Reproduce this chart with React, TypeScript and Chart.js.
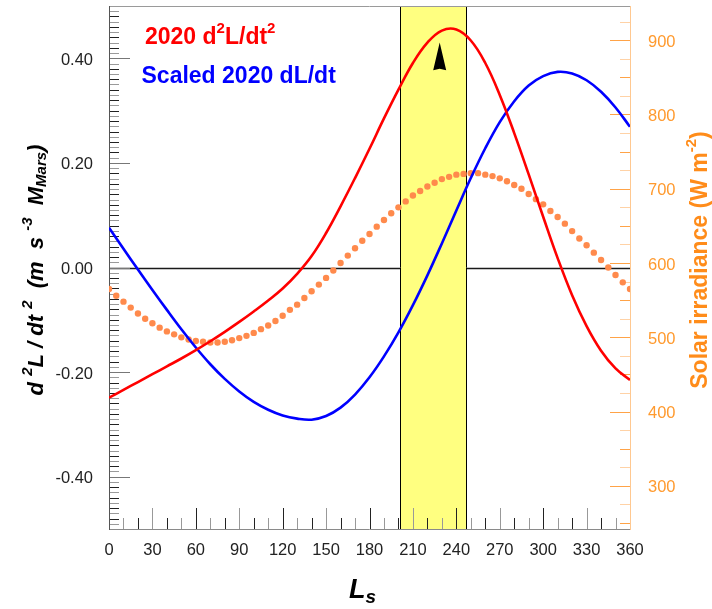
import React, { useEffect, useRef } from 'react';
import { Chart, registerables } from 'chart.js';

Chart.register(...registerables);

// ---------- data ----------
const lsGrid = [0, 10, 20, 30, 40, 50, 60, 70, 80, 90, 100, 110, 120, 130, 140, 150, 160, 170, 180,
  190, 200, 210, 220, 230, 240, 250, 260, 270, 280, 290, 300, 310, 320, 330, 340, 350, 360];

const d2LDt2_2020 = [-0.249, -0.234, -0.219, -0.204, -0.189, -0.174, -0.158, -0.141, -0.123, -0.104,
  -0.084, -0.063, -0.040, -0.012, 0.022, 0.066, 0.117, 0.171, 0.227, 0.285, 0.340, 0.391, 0.430,
  0.453, 0.455, 0.434, 0.391, 0.330, 0.257, 0.178, 0.097, 0.018, -0.053, -0.112, -0.159, -0.193, -0.215];

const scaledDLDt_2020 = [0.076, 0.036, -0.004, -0.043, -0.081, -0.118, -0.153, -0.185, -0.213, -0.237,
  -0.257, -0.272, -0.283, -0.289, -0.291, -0.284, -0.268, -0.243, -0.210, -0.170, -0.124, -0.072,
  -0.015, 0.046, 0.109, 0.171, 0.228, 0.278, 0.318, 0.348, 0.366, 0.374, 0.371, 0.358, 0.336, 0.306, 0.269];

const irradianceLs = [0, 5, 10, 15, 20, 25, 30, 35, 40, 45, 50, 55, 60, 65, 70, 75, 80, 85, 90, 95, 100,
  105, 110, 115, 120, 125, 130, 135, 140, 145, 150, 155, 160, 165, 170, 175, 180, 185, 190, 195, 200,
  205, 210, 215, 220, 225, 230, 235, 240, 245, 250, 255, 260, 265, 270, 275, 280, 285, 290, 295, 300,
  305, 310, 315, 320, 325, 330, 335, 340, 345, 350, 355, 360];

const solarIrradiance = [565, 556, 548, 540, 532, 525, 519, 513, 508, 504, 500, 497, 495, 494, 493, 493,
  494, 496, 499, 502, 506, 511, 516, 522, 529, 537, 544, 553, 562, 571, 580, 590, 600, 610, 620, 630,
  639, 649, 658, 667, 675, 683, 691, 697, 703, 708, 713, 716, 719, 720, 721, 721, 719, 717, 714, 710,
  705, 700, 693, 686, 679, 670, 662, 653, 643, 633, 624, 614, 604, 594, 584, 574, 565];

const lsTickLabels = [0, 30, 60, 90, 120, 150, 180, 210, 240, 270, 300, 330, 360];
const leftTickLabels = [-0.4, -0.2, 0, 0.2, 0.4];
const rightTickLabels = [300, 400, 500, 600, 700, 800, 900];

const lsRange = [0, 360];
const leftRange = [-0.5, 0.5];
const rightRange = [242, 946];

const lsMinorStep = 10;
const leftMinorStep = 0.01;
const rightMinorStep = 25;

const dustSeasonLs = [201, 247];
const arrowLs = [228.5];
const arrowTipBase = [0.43, 0.377];

// ---------- styles ----------
const SANS = '"Liberation Sans", Arial, Helvetica, sans-serif';
const ORANGE_TEXT = '#ff8c1a';
const ORANGE_TICK = '#ffa347';
const DOT = '#ff8a4c';

function hasFont(name: string): boolean {
  const c = document.createElement('canvas').getContext('2d');
  if (!c) return false;
  const s = 'mmmmmmmmmmlli0123456789WQ';
  for (const base of ['monospace', 'serif']) {
    c.font = `72px ${base}`;
    const a = c.measureText(s).width;
    c.font = `72px "${name}", ${base}`;
    const b = c.measureText(s).width;
    if (a !== b) return true;
  }
  return false;
}

type Run = { t: string; font: string; dy?: number };

function drawRuns(ctx: CanvasRenderingContext2D, runs: Run[], x: number, y: number, align: 'left' | 'center') {
  const widths = runs.map((r) => {
    ctx.font = r.font;
    return ctx.measureText(r.t).width;
  });
  const total = widths.reduce((a, b) => a + b, 0);
  let cx = align === 'center' ? x - total / 2 : x;
  ctx.textBaseline = 'alphabetic';
  ctx.textAlign = 'left';
  runs.forEach((r, i) => {
    ctx.font = r.font;
    ctx.fillText(r.t, cx, y + (r.dy || 0));
    cx += widths[i];
  });
}

const decor = {
  id: 'decor',
  beforeDatasetsDraw(chart: any) {
    const { ctx, chartArea: a, scales } = chart;
    const xs = scales.x, ys = scales.y, y2 = scales.y2;
    ctx.save();
    const hline = (x1: number, x2: number, y: number) => {
      ctx.beginPath(); ctx.moveTo(x1, y); ctx.lineTo(x2, y); ctx.stroke();
    };
    const vline = (x: number, y1: number, y2v: number) => {
      ctx.beginPath(); ctx.moveTo(x, y1); ctx.lineTo(x, y2v); ctx.stroke();
    };

    // zero line
    const y0 = Math.round(ys.getPixelForValue(0)) + 0.5;
    ctx.strokeStyle = '#1a1a1a';
    ctx.lineWidth = 1.6;
    hline(a.left, a.right, y0);

    // dust season band
    const bx1 = Math.round(xs.getPixelForValue(dustSeasonLs[0])) + 0.5;
    const bx2 = Math.round(xs.getPixelForValue(dustSeasonLs[1])) + 0.5;
    ctx.fillStyle = '#ffff80';
    ctx.fillRect(bx1, a.top, bx2 - bx1, a.bottom - a.top);
    ctx.strokeStyle = '#000';
    ctx.lineWidth = 1;
    vline(bx1, a.top, a.bottom);
    vline(bx2, a.top, a.bottom);

    // left axis ticks
    ctx.lineWidth = 1;
    const nL = Math.round((leftRange[1] - leftRange[0]) / leftMinorStep);
    for (let k = 1; k < nL; k++) {
      const v = leftRange[0] + k * leftMinorStep;
      const major = leftTickLabels.some((t) => Math.abs(t - v) < 1e-6);
      const py = Math.round(ys.getPixelForValue(v)) + 0.5;
      ctx.strokeStyle = major ? '#777' : k % 2 === 0 ? '#222' : '#9a9a9a';
      hline(a.left, a.left + (major ? 21 : 10), py);
    }
    // bottom axis ticks
    for (let v = lsRange[0] + lsMinorStep; v < lsRange[1]; v += lsMinorStep) {
      const major = lsTickLabels.includes(v);
      const px = Math.round(xs.getPixelForValue(v)) + 0.5;
      ctx.strokeStyle = (v / lsMinorStep) % 2 === 0 ? '#222' : '#999';
      vline(px, a.bottom, a.bottom - (major ? 21 : 11));
    }
    // right axis ticks
    for (let v = Math.ceil(rightRange[0] / rightMinorStep) * rightMinorStep; v < rightRange[1]; v += rightMinorStep) {
      const major = rightTickLabels.includes(v);
      const py = Math.round(y2.getPixelForValue(v)) + 0.5;
      ctx.strokeStyle = major ? ORANGE_TICK : (v / rightMinorStep) % 2 === 0 ? '#ffa347' : '#ffd2a6';
      hline(a.right - (major ? 20 : 10), a.right, py);
    }

    // frame
    ctx.lineWidth = 1;
    ctx.strokeStyle = '#9a9a9a';
    hline(a.left, a.right, Math.round(a.top) + 0.5);
    ctx.strokeStyle = '#8a8a8a';
    hline(a.left, a.right, Math.round(a.bottom) + 0.5);
    ctx.strokeStyle = '#555';
    vline(Math.round(a.left) + 0.5, a.top, a.bottom + 1);
    ctx.strokeStyle = '#ffc890';
    vline(Math.round(a.right) + 0.5, a.top, a.bottom + 1);

    // arrow
    const ax = xs.getPixelForValue(arrowLs[0]);
    const tipY = ys.getPixelForValue(arrowTipBase[0]);
    const baseY = ys.getPixelForValue(arrowTipBase[1]);
    ctx.fillStyle = '#000';
    ctx.beginPath();
    ctx.moveTo(ax, tipY);
    ctx.lineTo(ax + 6.5, baseY);
    ctx.lineTo(ax, baseY - 1.5);
    ctx.lineTo(ax - 6.5, baseY);
    ctx.closePath();
    ctx.fill();
    ctx.restore();
  },
  afterDraw(chart: any) {
    const { ctx } = chart;
    ctx.save();
    const B23 = `bold 23px ${SANS}`;
    const B15 = `bold 15px ${SANS}`;
    // legend
    ctx.fillStyle = '#ff0000';
    drawRuns(ctx, [
      { t: '2020 d', font: B23 },
      { t: '2', font: B15, dy: -11 },
      { t: 'L/dt', font: B23 },
      { t: '2', font: B15, dy: -11 },
    ], 145, 44, 'left');
    ctx.fillStyle = '#0000ff';
    drawRuns(ctx, [{ t: 'Scaled 2020 dL/dt', font: B23 }], 141.5, 83, 'left');

    // left axis title
    const BI22 = `italic bold 22px ${SANS}`;
    const BI15 = `italic bold 15px ${SANS}`;
    ctx.fillStyle = '#000';
    ctx.save();
    ctx.translate(43, 270);
    ctx.rotate(-Math.PI / 2);
    drawRuns(ctx, [
      { t: 'd ', font: BI22 },
      { t: '2', font: BI15, dy: -11 },
      { t: 'L / dt ', font: BI22 },
      { t: '2', font: BI15, dy: -11 },
      { t: '  (m  s ', font: BI22 },
      { t: '-3', font: BI15, dy: -11 },
      { t: '  M', font: BI22 },
      { t: 'Mars', font: BI15, dy: 3 },
      { t: ')', font: BI22 },
    ], 0, 0, 'center');
    ctx.restore();

    // right axis title
    ctx.fillStyle = ORANGE_TEXT;
    ctx.save();
    ctx.translate(707, 260);
    ctx.rotate(-Math.PI / 2);
    drawRuns(ctx, [
      { t: 'Solar irradiance (W m', font: B23 },
      { t: '-2', font: B15, dy: -11 },
      { t: ')', font: B23 },
    ], 0, 0, 'center');
    ctx.restore();

    // bottom axis title
    ctx.fillStyle = '#000';
    drawRuns(ctx, [
      { t: 'L', font: `italic bold 27px ${SANS}` },
      { t: 's', font: `italic bold 19px ${SANS}`, dy: 5 },
    ], 349, 598, 'left');
    ctx.restore();
  },
};

export default function App() {
  const ref = useRef<HTMLCanvasElement>(null);
  useEffect(() => {
    const canvas = ref.current;
    if (!canvas) return;
    const narrow = hasFont('Liberation Sans Narrow');
    const tickFont = narrow
      ? { family: '"Liberation Sans Narrow", ' + SANS, size: 19 }
      : { family: SANS, size: 16.5 };

    const chart = new Chart(canvas, {
      type: 'line',
      data: {
        datasets: [
          {
            label: '2020 d2L/dt2',
            data: lsGrid.map((x, i) => ({ x, y: d2LDt2_2020[i] })),
            borderColor: '#ff0000',
            borderWidth: 2.6,
            pointRadius: 0,
            tension: 0.4,
            fill: false,
            yAxisID: 'y',
            order: 1,
          },
          {
            label: 'Scaled 2020 dL/dt',
            data: lsGrid.map((x, i) => ({ x, y: scaledDLDt_2020[i] })),
            borderColor: '#0000ff',
            borderWidth: 2.6,
            pointRadius: 0,
            tension: 0.4,
            fill: false,
            yAxisID: 'y',
            order: 2,
          },
          {
            label: 'Solar irradiance',
            data: irradianceLs.map((x, i) => ({ x, y: solarIrradiance[i] })),
            showLine: false,
            pointRadius: 3.2,
            pointBackgroundColor: DOT,
            pointBorderWidth: 0,
            borderColor: DOT,
            yAxisID: 'y2',
            order: 3,
          },
        ],
      },
      options: {
        responsive: false,
        maintainAspectRatio: false,
        animation: false,
        devicePixelRatio: 1,
        layout: { padding: { top: 6, left: 0, right: 0, bottom: 0 } },
        plugins: { legend: { display: false }, tooltip: { enabled: false }, title: { display: false } },
        scales: {
          x: {
            type: 'linear',
            position: 'bottom',
            min: lsRange[0],
            max: lsRange[1],
            grid: { display: false, drawTicks: false },
            border: { display: false },
            afterBuildTicks: (s: any) => { s.ticks = lsTickLabels.map((v) => ({ value: v })); },
            ticks: {
              color: '#222',
              font: tickFont,
              padding: 12,
              autoSkip: false,
              maxRotation: 0,
              callback: (v: any) => String(v),
            },
            afterFit: (s: any) => { s.height = 80; s.paddingLeft = 0; s.paddingRight = 0; },
          },
          y: {
            type: 'linear',
            position: 'left',
            min: leftRange[0],
            max: leftRange[1],
            grid: { display: false, drawTicks: false },
            border: { display: false },
            afterBuildTicks: (s: any) => { s.ticks = leftTickLabels.map((v) => ({ value: v })); },
            ticks: {
              color: '#222',
              font: tickFont,
              padding: 16,
              labelOffset: 2,
              callback: (v: any) => Number(v).toFixed(2),
            },
            afterFit: (s: any) => { s.width = 109; s.paddingTop = 0; s.paddingBottom = 0; },
          },
          y2: {
            type: 'linear',
            position: 'right',
            min: rightRange[0],
            max: rightRange[1],
            grid: { display: false, drawTicks: false },
            border: { display: false },
            afterBuildTicks: (s: any) => { s.ticks = rightTickLabels.map((v) => ({ value: v })); },
            ticks: {
              color: '#ff9a2e',
              font: tickFont,
              padding: 18,
              labelOffset: 2,
              callback: (v: any) => String(v),
            },
            afterFit: (s: any) => { s.width = 82; s.paddingTop = 0; s.paddingBottom = 0; },
          },
        },
      },
      plugins: [decor],
    } as any);
    return () => chart.destroy();
  }, []);

  return (
    <div style={{ position: 'absolute', left: 0, top: 0, width: 712, height: 609, background: '#fff' }}>
      <canvas ref={ref} width={712} height={609} style={{ display: 'block', width: 712, height: 609 }} />
    </div>
  );
}
